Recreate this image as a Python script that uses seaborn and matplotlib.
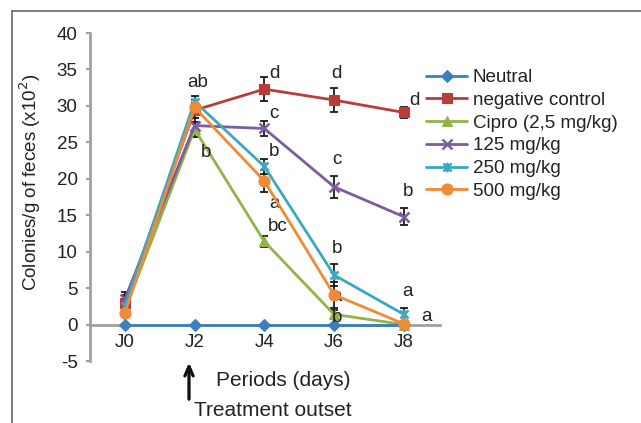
import matplotlib
matplotlib.use("Agg")
import matplotlib.pyplot as plt
import seaborn as sns
import numpy as np
from matplotlib.path import Path
from matplotlib.lines import Line2D

sns.set_style("white")
plt.rcParams["font.family"] = ["Liberation Sans", "DejaVu Sans"]
plt.rcParams["axes.unicode_minus"] = False

periods = ["J0", "J2", "J4", "J6", "J8"]
series_names = ["Neutral", "negative control", "Cipro (2,5 mg/kg)", "125 mg/kg", "250 mg/kg", "500 mg/kg"]

neutral = [0, 0, 0, 0, 0]
negative_control = [3.0, 29.4, 32.3, 30.8, 29.1]
cipro = [2.0, 26.8, 11.4, 1.4, 0.0]
dose_125 = [3.5, 27.3, 26.9, 18.9, 14.8]
dose_250 = [2.5, 30.6, 21.7, 6.8, 1.4]
dose_500 = [1.6, 29.8, 19.7, 4.1, 0.1]

neutral_err = [0, 0, 0, 0, 0]
negative_control_err = [1.0, 1.0, 1.6, 1.6, 0.8]
cipro_err = [1.0, 1.0, 0.8, 0.6, 0.0]
dose_125_err = [1.0, 1.0, 1.0, 1.5, 1.2]
dose_250_err = [1.0, 0.8, 1.0, 1.5, 0.9]
dose_500_err = [1.5, 1.0, 1.5, 1.8, 0.2]

# significance letters: (text, x position, y value)
letters = [
    ("ab", 1.05, 33.2), ("b", 1.16, 23.6),
    ("d", 2.15, 34.5), ("c", 2.14, 28.9), ("b", 2.14, 23.8), ("a", 2.14, 16.6), ("bc", 2.19, 13.4),
    ("d", 3.04, 34.4), ("c", 3.04, 22.7), ("b", 3.04, 10.5), ("a", 3.04, 3.8), ("b", 3.04, 0.96),
    ("d", 4.16, 30.8), ("b", 4.06, 18.2), ("a", 4.06, 4.5), ("a", 4.33, 1.1),
]

colors = ["#3d7ebf", "#b83d38", "#8fb449", "#7b5c9f", "#3aa8c1", "#ef8b38"]

star = Path([(-1, -1), (1, 1), (-1, 1), (1, -1), (0, -1.2), (0, 1.2)],
            [Path.MOVETO, Path.LINETO, Path.MOVETO, Path.LINETO, Path.MOVETO, Path.LINETO])
markers = ["D", "s", "^", "x", star, "o"]
msizes = [6.5, 7.5, 7, 7, 7, 8]

values = [neutral, negative_control, cipro, dose_125, dose_250, dose_500]
errors = [neutral_err, negative_control_err, cipro_err, dose_125_err, dose_250_err, dose_500_err]

FS = 13.5

fig = plt.figure(figsize=(6.41, 4.23), dpi=100)
ax = fig.add_axes([90 / 641, 1 - 361 / 423, 350 / 641, 328 / 423])

x = np.arange(len(periods))
draw_order = [1, 2, 3, 4, 5, 0]
for i in draw_order:
    ax.errorbar(x, values[i], yerr=errors[i], fmt="none", ecolor="#1a1a1a",
                elinewidth=1.3, capsize=3, capthick=1.3, zorder=2)
handles = {}
for i in draw_order:
    filled = markers[i] != "x" and markers[i] is not star
    style = dict(color=colors[i], linewidth=2, marker=markers[i], markersize=msizes[i],
                 markerfacecolor=colors[i] if filled else "none",
                 markeredgecolor=colors[i], markeredgewidth=0.8 if filled else 1.8)
    sns.lineplot(x=x, y=values[i], ax=ax, zorder=3 + (i == 5), legend=False, **style)
    handles[i] = Line2D([0], [0], **style)

for txt, lx, ly in letters:
    ax.text(lx, ly, txt, ha="center", va="center", fontsize=FS, color="#222222")

ax.set_xlim(-0.5, 4.52)
ax.set_ylim(-5, 40)
ax.set_yticks(np.arange(-5, 41, 5))
ax.set_xticks(x)
ax.set_xticklabels(periods)
ax.tick_params(axis="y", labelsize=FS, labelcolor="#222222", left=True, length=3,
               width=1.5, color="#a0a0a0", direction="out", pad=6)
ax.tick_params(axis="x", labelsize=FS, labelcolor="#222222", length=0, pad=7)
ax.spines["top"].set_visible(False)
ax.spines["right"].set_visible(False)
ax.spines["bottom"].set_position(("data", 0))
ax.spines["bottom"].set_color("#a0a0a0")
ax.spines["bottom"].set_linewidth(2)
ax.spines["left"].set_color("#a0a0a0")
ax.spines["left"].set_linewidth(2)
ax.set_xlabel("")
ax.set_ylabel("")

fig.text(30 / 641, 1 - 182 / 423, "Colonies/g of feces (x10$^2$)", rotation=90,
         ha="center", va="center", fontsize=FS, color="#222222")
fig.text(283 / 641, 1 - 380 / 423, "Periods (days)", ha="center", va="center",
         fontsize=15, color="#222222")
fig.text(194 / 641, 1 - 410 / 423, "Treatment outset", ha="left", va="center",
         fontsize=15, color="#222222")
fig.add_artist(plt.annotate("", xy=(189 / 641, 1 - 360 / 423), xytext=(189 / 641, 1 - 402 / 423),
                            xycoords="figure fraction", textcoords="figure fraction",
                            arrowprops=dict(arrowstyle="->,head_length=0.7,head_width=0.3",
                                            color="#111111", lw=2)))

leg = fig.legend([handles[i] for i in range(6)], series_names, loc="upper left",
                 bbox_to_anchor=(426 / 641, 1 - 69 / 423), frameon=False, fontsize=FS,
                 handlelength=2.2, handletextpad=0.3, labelspacing=0.3, borderpad=0,
                 borderaxespad=0)
for t in leg.get_texts():
    t.set_color("#222222")

# outer frame (left and top edges)
fig.add_artist(Line2D([12 / 641, 12 / 641], [0, 1 - 11 / 423], color="#666666", lw=1.2))
fig.add_artist(Line2D([12 / 641, 1], [1 - 11 / 423, 1 - 11 / 423], color="#666666", lw=1.2))

fig.savefig("out.png", dpi=100)
